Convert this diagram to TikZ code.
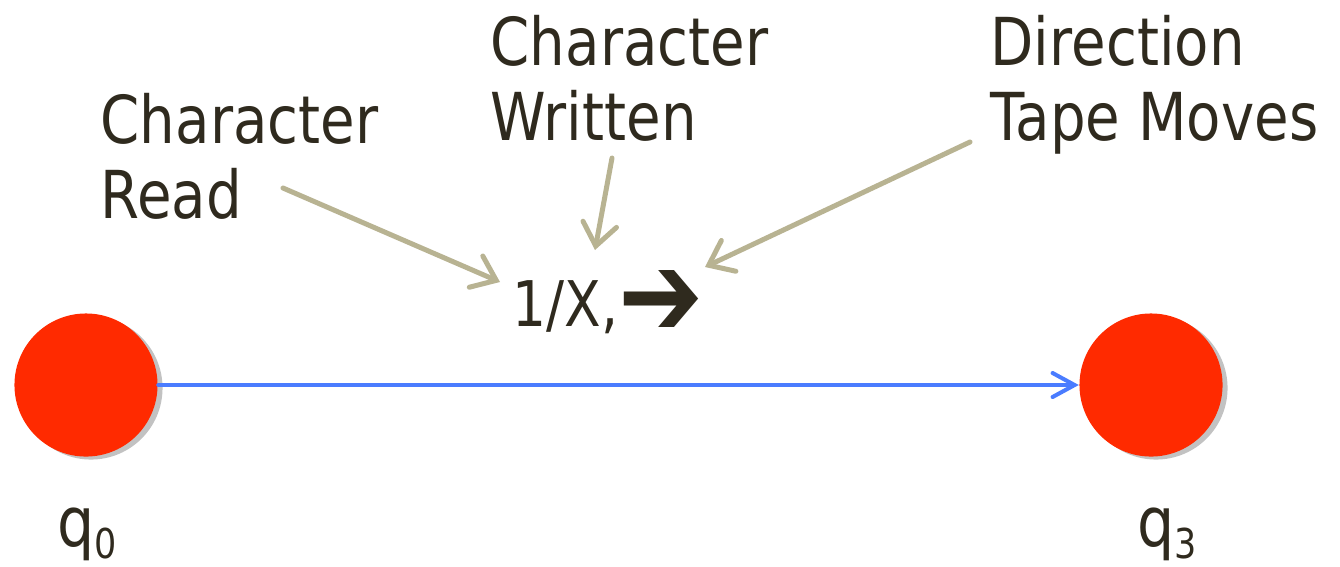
\documentclass[tikz,border=0pt]{standalone}
\usepackage{fontspec}
\setmainfont[FakeStretch=0.85]{DejaVu Sans}
\usetikzlibrary{arrows.meta,shadows}

\definecolor{inkbrown}{HTML}{2F2A1E}
\definecolor{tanline}{HTML}{B8B392}
\definecolor{statered}{HTML}{FF2A00}
\definecolor{moveblue}{HTML}{4A7CFF}

\begin{document}
\begin{tikzpicture}[x=0.01cm,y=-0.01cm,
        state/.style={circle,fill=statered,minimum size=1.43cm,inner sep=0pt,
            drop shadow={shadow xshift=0.05cm,shadow yshift=-0.03cm,fill=black!60,opacity=0.4}},
        note/.style={font=\fontsize{18.8}{21.3}\selectfont,text=inkbrown,align=left,inner sep=0pt,anchor=base west},
        qname/.style={font=\fontsize{19.6}{22}\selectfont,text=inkbrown,inner sep=0pt,anchor=base},
        pointer/.style={draw=tanline,line width=0.05cm,line cap=round,
            -{Straight Barb[length=0.22cm,width=0.34cm,line cap=round]}},
        move/.style={draw=moveblue,line width=0.04cm,line cap=round,
            -{Straight Barb[length=0.22cm,width=0.24cm,line cap=round]}}]

    \useasboundingbox (0,0) rectangle (1340,566);

    % states
    \node[state] (q0) at (86,385) {};
    \node[state] (q3) at (1151,385) {};
    \node[qname] (q0name) at (87,546) {q\raisebox{-0.12cm}{\fontsize{11.7}{12}\selectfont 0}};
    \node[qname] (q3name) at (1167,546) {q\raisebox{-0.12cm}{\fontsize{11.7}{12}\selectfont 3}};

    % transition label and notes (base = last line)
    \node[note,font=\fontsize{17.9}{20}\selectfont] (rule) at (512,326)
        {1/X,\raisebox{-0.1cm}{\fontsize{34}{34}\selectfont ➔}};
    \node[note] (readnote) at (100,218) {Character\\Read};
    \node[note] (writenote) at (490,140) {Character\\Written};
    \node[note] (dirnote) at (990,140) {Direction\\Tape Moves};

    \coordinate (readtail) at (283,188);
    \coordinate (readhead) at (500,282);
    \coordinate (writetail) at (612,158);
    \coordinate (writehead) at (595,250);
    \coordinate (dirtail) at (970,142);
    \coordinate (dirhead) at (705,267);

    \path (q0) edge[move] (q3);

    \path (readtail) edge[pointer] (readhead)
    (writetail) edge[pointer] (writehead)
    (dirtail) edge[pointer] (dirhead);

\end{tikzpicture}
\end{document}
